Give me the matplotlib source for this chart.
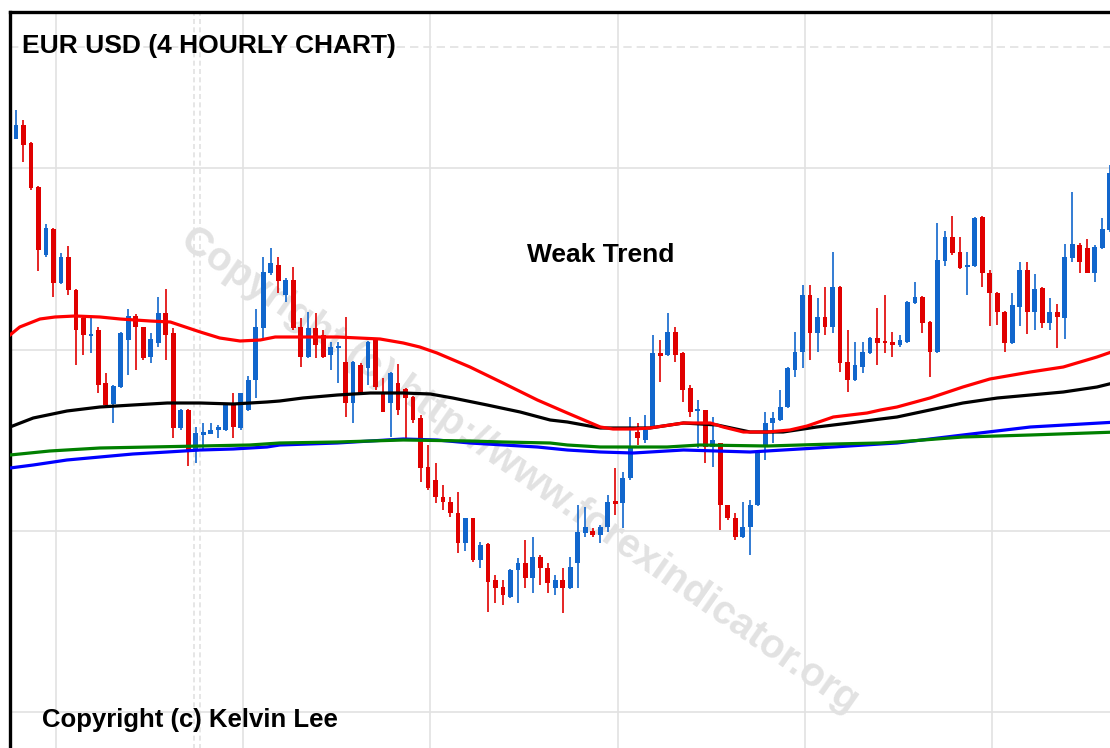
import matplotlib.pyplot as plt
import numpy as np

# candle values in screen units (larger = lower price)
opens = [139, 125, 143, 187, 255, 229, 283, 257, 290, 318, 336, 330, 383, 404, 387, 340, 316, 327, 357, 343,
         313, 333, 428, 410, 450, 435, 434, 430, 430, 405, 428, 410, 380, 328, 273, 265, 295, 280, 327, 357,
         328, 335, 355, 348, 362, 403, 365, 368, 340, 393, 403, 383, 389, 397, 418, 467, 480, 497, 502, 513,
         543, 518, 560, 544, 580, 587, 597, 570, 563, 578, 557, 568, 588, 580, 588, 563, 533, 531, 535, 527,
         501, 503, 478, 432, 440, 428, 353, 355, 332, 353, 388, 411, 410, 447, 443, 505, 518, 537, 527, 505,
         447, 423, 420, 407, 370, 352, 295, 333, 317, 327, 287, 362, 380, 367, 353, 338, 341, 342, 345, 342,
         303, 297, 322, 352, 261, 237, 252, 267, 266, 217, 273, 293, 312, 343, 307, 270, 312, 288, 323, 312,
         318, 258, 245, 248, 273, 248, 230]
highs = [110, 120, 142, 186, 224, 228, 253, 246, 289, 316, 318, 327, 373, 385, 332, 309, 314, 327, 333, 297,
         289, 328, 409, 409, 427, 423, 423, 425, 404, 393, 393, 376, 309, 257, 248, 257, 278, 267, 318, 312,
         313, 330, 342, 342, 317, 361, 363, 341, 339, 378, 372, 364, 388, 396, 415, 445, 463, 485, 497, 492,
         518, 518, 542, 543, 575, 580, 569, 558, 540, 537, 555, 563, 575, 568, 557, 505, 507, 528, 525, 495,
         468, 472, 417, 423, 415, 335, 340, 313, 327, 352, 385, 400, 410, 417, 443, 505, 513, 502, 500, 452,
         412, 412, 390, 367, 332, 285, 285, 298, 287, 252, 286, 330, 342, 342, 337, 308, 295, 332, 335, 301,
         282, 296, 321, 223, 231, 216, 237, 252, 217, 216, 270, 292, 311, 293, 262, 262, 274, 287, 298, 304,
         244, 192, 243, 239, 245, 218, 165]
lows = [139, 162, 190, 271, 257, 297, 284, 295, 365, 355, 353, 393, 407, 423, 388, 375, 370, 360, 363, 347,
        360, 438, 430, 466, 463, 450, 434, 438, 431, 438, 430, 411, 398, 338, 275, 293, 302, 330, 367, 358,
        358, 358, 370, 383, 417, 423, 395, 385, 390, 412, 437, 415, 438, 423, 482, 490, 503, 510, 517, 553,
        551, 562, 568, 612, 603, 605, 598, 603, 588, 593, 585, 593, 595, 613, 589, 588, 537, 537, 543, 532,
        515, 528, 480, 445, 443, 429, 382, 356, 362, 402, 417, 448, 463, 467, 530, 520, 540, 538, 555, 506,
        460, 443, 421, 408, 377, 368, 360, 352, 335, 333, 372, 392, 381, 373, 354, 365, 353, 357, 347, 343,
        304, 333, 377, 353, 266, 255, 269, 295, 267, 287, 326, 325, 352, 344, 326, 334, 330, 328, 330, 348,
        339, 262, 273, 273, 282, 249, 232]
closes = [125, 145, 188, 250, 228, 283, 257, 290, 330, 335, 334, 385, 405, 386, 333, 316, 327, 358, 339, 313,
          335, 428, 410, 450, 433, 432, 430, 427, 405, 427, 393, 380, 327, 272, 263, 281, 280, 328, 357, 328,
          345, 357, 347, 346, 403, 362, 393, 342, 387, 412, 373, 410, 398, 420, 468, 488, 497, 502, 513, 543,
          518, 560, 545, 582, 588, 595, 570, 563, 578, 557, 568, 583, 580, 588, 567, 532, 527, 535, 527, 502,
          504, 478, 447, 438, 430, 353, 356, 332, 355, 390, 412, 409, 447, 440, 505, 518, 537, 527, 505, 453,
          423, 418, 407, 368, 352, 295, 333, 317, 327, 287, 363, 380, 365, 352, 338, 343, 343, 345, 340, 302,
          297, 323, 352, 260, 237, 253, 268, 265, 218, 273, 293, 312, 343, 305, 270, 312, 289, 323, 312, 317,
          257, 244, 262, 273, 247, 229, 173]

# moving averages, sampled at candle positions
red_x = [-0.8, 0.5, 3.2, 5.2, 7.9, 11.2, 13.9, 17.9, 20.6, 22.6, 24.6, 27.2, 29.9, 32.6, 34.6, 38.3, 42.9,
         48.6, 51.7, 53.9, 56.2, 60.6, 65.0, 69.6, 73.6, 78.0, 79.7, 82.4, 84.6, 89.1, 92.7, 94.4, 97.1,
         100.3, 103.3, 105.6, 109.1, 113.6, 115.4, 117.6, 122.0, 126.4, 130.0, 135.4, 139.8, 144.3, 147.0]
red_y = [335, 327, 319, 317, 316, 317, 319, 321, 322, 327, 332, 338, 341, 340, 337, 337, 337,
         339, 343, 347, 353, 367, 383, 400, 413, 427, 429, 429, 428, 423, 423, 427, 432,
         432, 430, 426, 417, 413, 410, 407, 398, 387, 379, 372, 367, 357, 350]
black_x = [-0.8, 2.3, 6.8, 11.2, 15.6, 20.2, 24.6, 29.0, 33.5, 35.2, 38.3, 42.9, 47.3, 51.7, 55.3, 58.3,
           62.9, 67.3, 71.3, 73.6, 78.0, 82.4, 84.6, 89.1, 93.6, 98.0, 102.4, 106.9, 111.3, 115.4, 117.6,
           122.0, 126.4, 131.0, 135.4, 139.8, 144.3, 147.0]
black_y = [427, 418, 411, 407, 405, 403, 403, 404, 402, 401, 398, 395, 393, 393, 394, 398,
           405, 412, 420, 422, 428, 428, 428, 423, 425, 432, 432, 427, 423, 419, 417,
           410, 403, 398, 395, 392, 387, 382]
green_x = [-0.8, 4.5, 11.2, 17.9, 24.6, 31.2, 35.2, 42.9, 51.7, 60.6, 65.0, 71.3, 73.6, 78.0, 82.4, 86.9,
           91.3, 100.3, 109.1, 115.4, 117.6, 126.4, 135.4, 147.0]
green_y = [455, 451, 448, 447, 446, 445, 443, 442, 440, 441, 442, 443, 445, 447, 447, 447,
           445, 446, 444, 443, 442, 437, 435, 432]
blue_x = [-0.8, 2.3, 6.8, 11.2, 15.6, 20.2, 24.6, 29.0, 33.5, 35.2, 42.9, 51.7, 56.2, 60.6, 69.6, 73.6,
          78.0, 82.4, 89.1, 98.0, 102.4, 109.1, 115.4, 117.6, 126.4, 135.4, 147.0]
blue_y = [468, 465, 460, 457, 454, 452, 450, 449, 447, 445, 443, 439, 440, 443, 447, 450,
          452, 453, 450, 452, 450, 447, 444, 443, 435, 427, 422]

up_col = "#1166cc"
down_col = "#e00000"
grid_col = "#e2e2e2"

fig = plt.figure(figsize=(11.1, 7.48), dpi=100)
ax = fig.add_axes([10 / 1110, -15 / 748, 1.02, (736 + 15) / 748])
ax.set_xlim(-0.8, -0.8 + 1132 / 7.49)
ax.set_ylim(763, 12)
ax.set_xticks([])
ax.set_yticks([])
for side in ["left", "top"]:
    ax.spines[side].set_linewidth(2.4)
    ax.spines[side].set_color("black")

# grid
for gy in [168, 350, 531, 712]:
    ax.axhline(gy, color=grid_col, lw=1.2, zorder=0)
ax.axhline(47, color=grid_col, lw=1.2, ls=(0, (5, 3)), zorder=0)
for gx in [5.3, 30.3, 55.3, 80.3, 105.3, 130.3]:
    ax.axvline(gx, color=grid_col, lw=1.2, zorder=0)
for gx in [23.8, 24.6]:
    ax.axvline(gx, color=grid_col, lw=1.2, ls=(0, (3, 2)), zorder=0)

# watermark
ax.text(0.45, 0.39, "Copyright (c) http://www.forexindicator.org", transform=ax.transAxes,
        fontsize=29, fontweight="bold", family="Liberation Sans", color="#e2e2e2",
        rotation=-35, rotation_mode="anchor", ha="center", va="center", zorder=0.5)

# candles
o = np.array(opens)
c = np.array(closes)
x = np.arange(len(o))
cols = [up_col if cc <= oo else down_col for oo, cc in zip(o, c)]
ax.vlines(x, highs, lows, colors=cols, lw=1.2, zorder=2)
body = c - o
body = np.where(np.abs(body) < 2, np.where(body < 0, -2, 2), body)
ax.bar(x, body, bottom=o, width=0.64, color=cols, zorder=2)

# moving averages
ax.plot(blue_x, blue_y, color="#0000ff", lw=2.3, zorder=3)
ax.plot(green_x, green_y, color="#008000", lw=2.3, zorder=3)
ax.plot(black_x, black_y, color="black", lw=2.3, zorder=3)
ax.plot(red_x, red_y, color="#ff0000", lw=2.3, zorder=3)

fig.text(22 / 1110, 1 - 46 / 748, "EUR USD (4 HOURLY CHART)", fontsize=19, fontweight="bold",
         family="Liberation Sans", va="center", ha="left")
fig.text(601 / 1110, 1 - 255 / 748, "Weak Trend", fontsize=19, fontweight="bold",
         family="Liberation Sans", va="center", ha="center")
fig.text(42 / 1110, 1 - 720 / 748, "Copyright (c) Kelvin Lee", fontsize=18.5, fontweight="bold",
         family="Liberation Sans", va="center", ha="left")

fig.savefig("out.png", dpi=100)
